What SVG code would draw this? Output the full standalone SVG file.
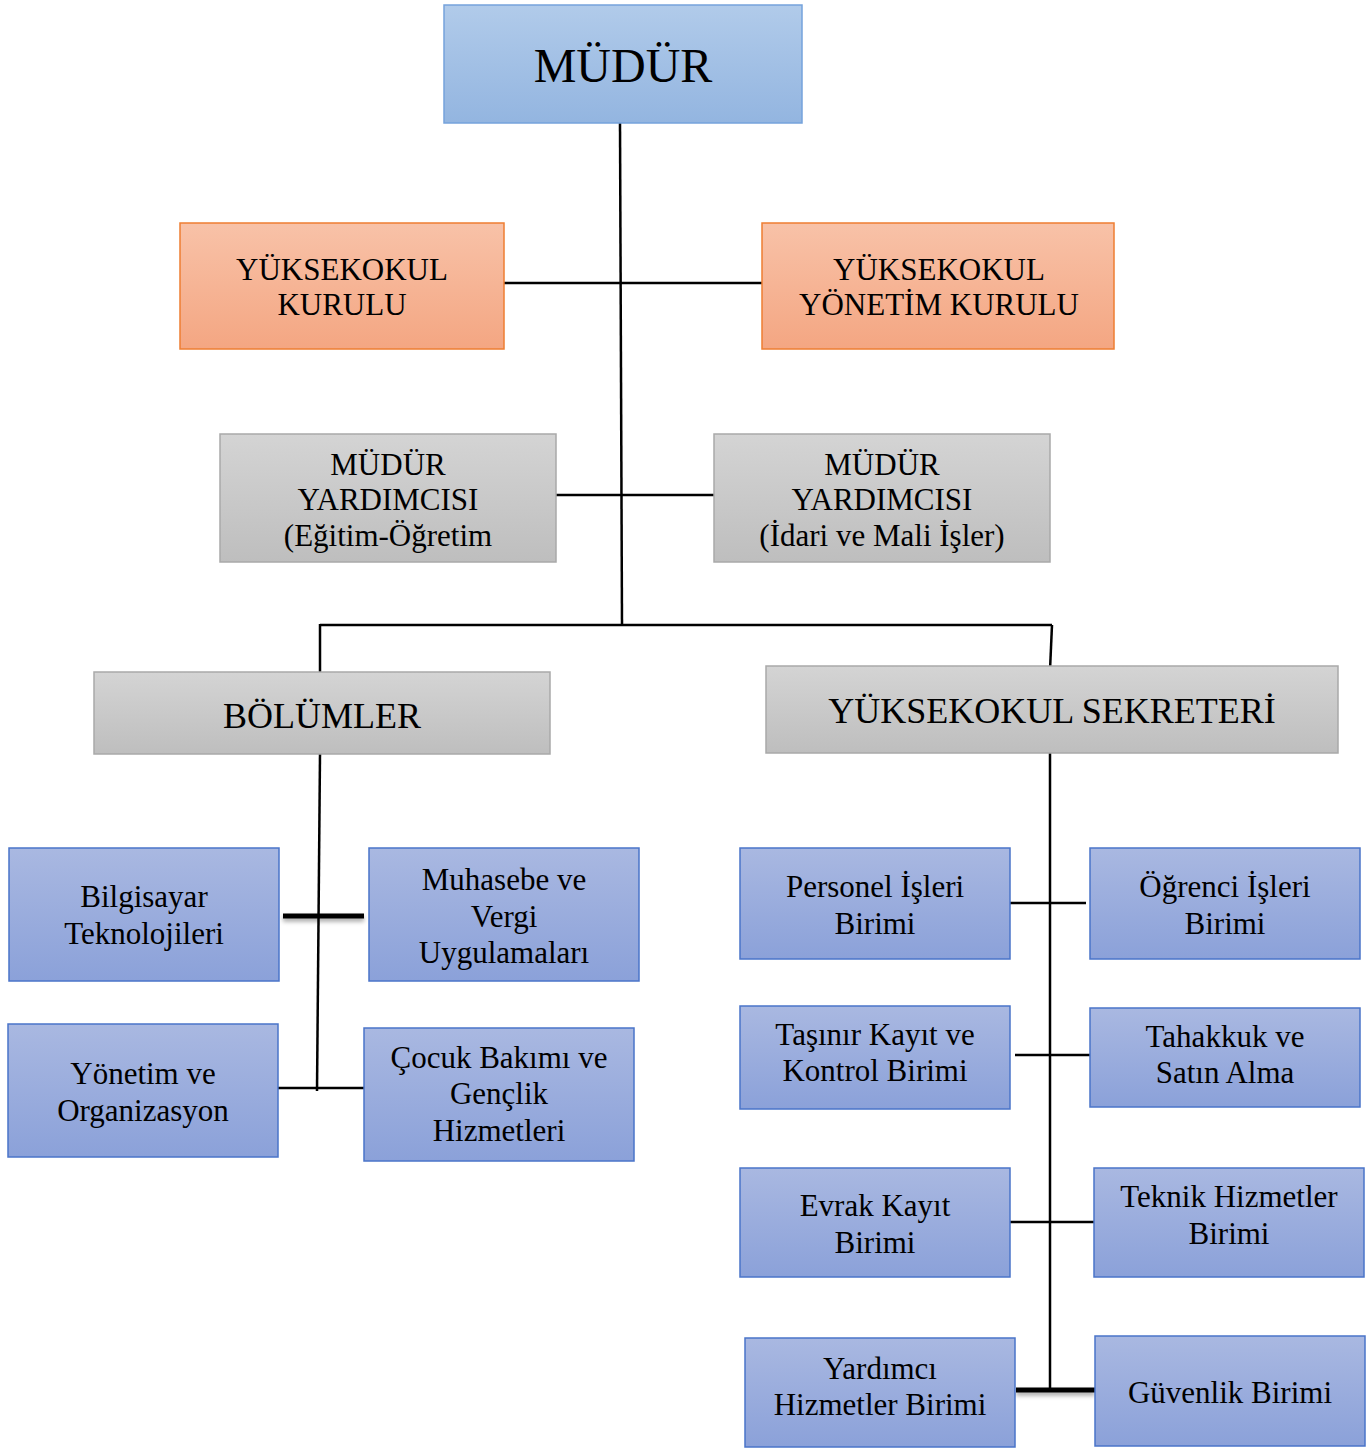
<svg xmlns="http://www.w3.org/2000/svg" width="1366" height="1448" viewBox="0 0 1366 1448">
<defs>
<linearGradient id="gTop" x1="0" y1="0" x2="0" y2="1"><stop offset="0" stop-color="#b1cbea"/><stop offset="1" stop-color="#93b5e0"/></linearGradient>
<linearGradient id="gOr" x1="0" y1="0" x2="0" y2="1"><stop offset="0" stop-color="#f8c2a8"/><stop offset="1" stop-color="#f4a682"/></linearGradient>
<linearGradient id="gGr" x1="0" y1="0" x2="0" y2="1"><stop offset="0" stop-color="#d4d4d4"/><stop offset="1" stop-color="#bebebe"/></linearGradient>
<linearGradient id="gBl" x1="0" y1="0" x2="0" y2="1"><stop offset="0" stop-color="#a9b8e1"/><stop offset="1" stop-color="#8ba1d9"/></linearGradient>
<filter id="sh" x="-20%" y="-200%" width="140%" height="500%"><feDropShadow dx="0" dy="3" stdDeviation="2" flood-color="#000" flood-opacity="0.35"/></filter>
</defs>
<style>
.top{fill:url(#gTop);stroke:#75a3dc;stroke-width:1.5}
.or{fill:url(#gOr);stroke:#ee7e32;stroke-width:1.5}
.gr{fill:url(#gGr);stroke:#a9a9a9;stroke-width:1.5}
.bl{fill:url(#gBl);stroke:#4a74c9;stroke-width:1.5}
text{font-family:"Liberation Serif","Times New Roman",serif;fill:#000;text-anchor:middle}
.t31{font-size:31px}
.t36{font-size:36px}
.t48{font-size:48px}
.ln{stroke:#000;stroke-width:2.5;fill:none}
.thk{fill:#000}
</style>
<g id="connectors">
<line class="ln" x1="620" y1="123" x2="622" y2="626"/>
<line class="ln" x1="504" y1="283" x2="762" y2="283"/>
<line class="ln" x1="556" y1="495" x2="714" y2="495"/>
<line class="ln" x1="320" y1="625" x2="1052" y2="625"/>
<line class="ln" x1="320" y1="624" x2="320" y2="672"/>
<line class="ln" x1="1052" y1="625" x2="1050" y2="670"/>
<line class="ln" x1="320" y1="754" x2="317" y2="1091"/>
<rect class="thk" x="283" y="913.5" width="81" height="5" filter="url(#sh)"/>
<line class="ln" x1="278" y1="1088" x2="364" y2="1088"/>
<line class="ln" x1="1050" y1="753" x2="1050" y2="1390"/>
<line class="ln" x1="1010" y1="903" x2="1086" y2="903"/>
<line class="ln" x1="1015" y1="1055" x2="1090" y2="1055"/>
<line class="ln" x1="1009" y1="1222" x2="1094" y2="1222"/>
<rect class="thk" x="1016" y="1387.5" width="79" height="5" filter="url(#sh)"/>
</g>
<g id="mudur"><rect class="top" x="444" y="5" width="358" height="118"/><text class="t48" x="623" y="82">MÜDÜR</text></g>
<g id="yuksekokul-kurulu"><rect class="or" x="180" y="223" width="324" height="126"/><text class="t31" x="342" y="280">YÜKSEKOKUL</text><text class="t31" x="342" y="315">KURULU</text></g>
<g id="yonetim-kurulu"><rect class="or" x="762" y="223" width="352" height="126"/><text class="t31" x="939" y="280">YÜKSEKOKUL</text><text class="t31" x="939" y="315">YÖNETİM KURULU</text></g>
<g id="mudur-yrd-egitim"><rect class="gr" x="220" y="434" width="336" height="128"/><text class="t31" x="388" y="475">MÜDÜR</text><text class="t31" x="388" y="510">YARDIMCISI</text><text class="t31" x="388" y="546">(Eğitim-Öğretim</text></g>
<g id="mudur-yrd-idari"><rect class="gr" x="714" y="434" width="336" height="128"/><text class="t31" x="882" y="475">MÜDÜR</text><text class="t31" x="882" y="510">YARDIMCISI</text><text class="t31" x="882" y="546">(İdari ve Mali İşler)</text></g>
<g id="bolumler"><rect class="gr" x="94" y="672" width="456" height="82"/><text class="t36" x="322" y="728">BÖLÜMLER</text></g>
<g id="sekreter"><rect class="gr" x="766" y="666" width="572" height="87"/><text class="t36" x="1052" y="723">YÜKSEKOKUL SEKRETERİ</text></g>
<g id="bilgisayar"><rect class="bl" x="9" y="848" width="270" height="133"/><text class="t31" x="144" y="907">Bilgisayar</text><text class="t31" x="144" y="944">Teknolojileri</text></g>
<g id="muhasebe"><rect class="bl" x="369" y="848" width="270" height="133"/><text class="t31" x="504" y="890">Muhasebe ve</text><text class="t31" x="504" y="927">Vergi</text><text class="t31" x="504" y="963">Uygulamaları</text></g>
<g id="yonetim-org"><rect class="bl" x="8" y="1024" width="270" height="133"/><text class="t31" x="143" y="1084">Yönetim ve</text><text class="t31" x="143" y="1121">Organizasyon</text></g>
<g id="cocuk"><rect class="bl" x="364" y="1028" width="270" height="133"/><text class="t31" x="499" y="1068">Çocuk Bakımı ve</text><text class="t31" x="499" y="1104">Gençlik</text><text class="t31" x="499" y="1141">Hizmetleri</text></g>
<g id="personel"><rect class="bl" x="740" y="848" width="270" height="111"/><text class="t31" x="875" y="897">Personel İşleri</text><text class="t31" x="875" y="934">Birimi</text></g>
<g id="ogrenci"><rect class="bl" x="1090" y="848" width="270" height="111"/><text class="t31" x="1225" y="897">Öğrenci İşleri</text><text class="t31" x="1225" y="934">Birimi</text></g>
<g id="tasinir"><rect class="bl" x="740" y="1006" width="270" height="103"/><text class="t31" x="875" y="1045">Taşınır Kayıt ve</text><text class="t31" x="875" y="1081">Kontrol Birimi</text></g>
<g id="tahakkuk"><rect class="bl" x="1090" y="1008" width="270" height="99"/><text class="t31" x="1225" y="1047">Tahakkuk ve</text><text class="t31" x="1225" y="1083">Satın Alma</text></g>
<g id="evrak"><rect class="bl" x="740" y="1168" width="270" height="109"/><text class="t31" x="875" y="1216">Evrak Kayıt</text><text class="t31" x="875" y="1253">Birimi</text></g>
<g id="teknik"><rect class="bl" x="1094" y="1168" width="270" height="109"/><text class="t31" x="1229" y="1207">Teknik Hizmetler</text><text class="t31" x="1229" y="1244">Birimi</text></g>
<g id="yardimci"><rect class="bl" x="745" y="1338" width="270" height="109"/><text class="t31" x="880" y="1379">Yardımcı</text><text class="t31" x="880" y="1415">Hizmetler Birimi</text></g>
<g id="guvenlik"><rect class="bl" x="1095" y="1336" width="270" height="110"/><text class="t31" x="1230" y="1403">Güvenlik Birimi</text></g>
</svg>
